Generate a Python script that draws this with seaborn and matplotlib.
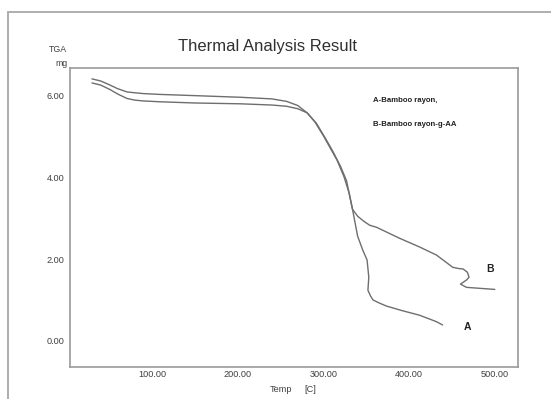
import matplotlib
matplotlib.use("Agg")
import matplotlib.pyplot as plt
from matplotlib.patches import Rectangle
from matplotlib.ticker import MultipleLocator, FormatStrFormatter
import seaborn as sns
import pandas as pd

# TGA curves (temperature in C, mass in mg)
temp_a = [30, 40, 51, 60, 71, 80, 90, 109, 150, 203, 240, 257, 270, 281, 292, 302, 311,
          320, 327, 334, 340, 346, 351, 353, 352, 355, 358, 366, 374, 392, 412, 432, 439]
mass_a = [6.31, 6.26, 6.15, 6.04, 5.93, 5.89, 5.87, 5.85, 5.82, 5.80, 5.77, 5.74, 5.68, 5.58, 5.32, 4.97, 4.64,
          4.27, 3.92, 3.22, 2.56, 2.22, 1.98, 1.56, 1.24, 1.10, 1.00, 0.92, 0.85, 0.74, 0.63, 0.47, 0.39]

temp_b = [30, 40, 51, 60, 71, 80, 90, 109, 150, 203, 240, 257, 270, 281, 290, 300, 308, 316, 324, 330, 334,
          340, 347, 354, 362, 389, 412, 432, 451, 458, 463, 468, 470, 467, 460, 467, 500]
mass_b = [6.41, 6.36, 6.26, 6.17, 6.09, 6.07, 6.05, 6.03, 6.00, 5.96, 5.92, 5.86, 5.76, 5.58, 5.36, 5.02, 4.72, 4.42, 4.02, 3.62, 3.22,
          3.05, 2.93, 2.83, 2.78, 2.51, 2.30, 2.10, 1.80, 1.77, 1.76, 1.68, 1.56, 1.49, 1.39, 1.31, 1.26]

series_names = ["A", "B"]
legend_lines = ["A-Bamboo rayon,", "B-Bamboo rayon-g-AA"]

df = pd.concat([
    pd.DataFrame({"temp": temp_a, "mass": mass_a, "sample": "A"}),
    pd.DataFrame({"temp": temp_b, "mass": mass_b, "sample": "B"}),
])

sns.set_style("white")
plt.rcParams["font.family"] = ["Liberation Sans", "DejaVu Sans"]

fig = plt.figure(figsize=(5.51, 3.99), dpi=100)
ax = fig.add_axes([0.127, 0.080, 0.813, 0.750])

sns.lineplot(data=df, x="temp", y="mass", units="sample", estimator=None,
             sort=False, color="#6e6e6e", linewidth=1.0, ax=ax, legend=False)

ax.set_xlim(4.4, 527)
ax.set_ylim(-0.64, 6.68)
ax.xaxis.set_major_locator(MultipleLocator(100))
ax.xaxis.set_minor_locator(MultipleLocator(20))
ax.yaxis.set_major_locator(MultipleLocator(2))
ax.yaxis.set_minor_locator(MultipleLocator(0.5))
ax.xaxis.set_major_formatter(FormatStrFormatter("%.2f"))
ax.yaxis.set_major_formatter(FormatStrFormatter("%.2f"))
ax.tick_params(axis="both", which="both", labelsize=6.6, labelcolor="#404040",
               color="#808080", width=0.8)
ax.tick_params(axis="x", which="both", direction="in", length=2, pad=2)
ax.tick_params(axis="y", which="both", direction="out", length=2, pad=2)
ax.set_xlabel("")
ax.set_ylabel("")
for s in ax.spines.values():
    s.set_color("#9a9a9a")
    s.set_linewidth(1.2)

# curve labels and sample legend
ax.text(494, 1.76, series_names[1], fontsize=7.5, fontweight="bold",
        ha="center", va="center", color="#222222")
ax.text(468.5, 0.34, series_names[0], fontsize=7.5, fontweight="bold",
        ha="center", va="center", color="#222222")
leg_font = ["Liberation Sans Narrow", "Liberation Sans", "DejaVu Sans"]
fig.text(373 / 551, 1 - 100 / 399, legend_lines[0], fontsize=5.6, fontweight="bold",
         family=leg_font, ha="left", va="center", color="#222222")
fig.text(373 / 551, 1 - 124 / 399, legend_lines[1], fontsize=5.6, fontweight="bold",
         family=leg_font, ha="left", va="center", color="#222222")

fig.text(0.485, 1 - 47 / 399, "Thermal Analysis Result", fontsize=12,
         ha="center", va="center", color="#303030")
fig.text(58 / 551, 1 - 49 / 399, "TGA", fontsize=6.3, ha="center", va="center", color="#404040")
fig.text(68 / 551, 1 - 63 / 399, "mg", fontsize=6.3, ha="right", va="center", color="#404040")
fig.text(270 / 551, 1 - 389 / 399, "Temp", fontsize=6.6, ha="left", va="center", color="#404040")
fig.text(304 / 551, 1 - 389 / 399, "[C]", fontsize=6.6, ha="left", va="center", color="#404040")

# outer frame of the screenshot
fig.patches.append(Rectangle((8 / 551, -0.1), 1.2, 1 - 12 / 399 + 0.1,
                             transform=fig.transFigure, fill=False,
                             edgecolor="#a8a8a8", linewidth=1.3))

fig.savefig("out.png", dpi=100)
